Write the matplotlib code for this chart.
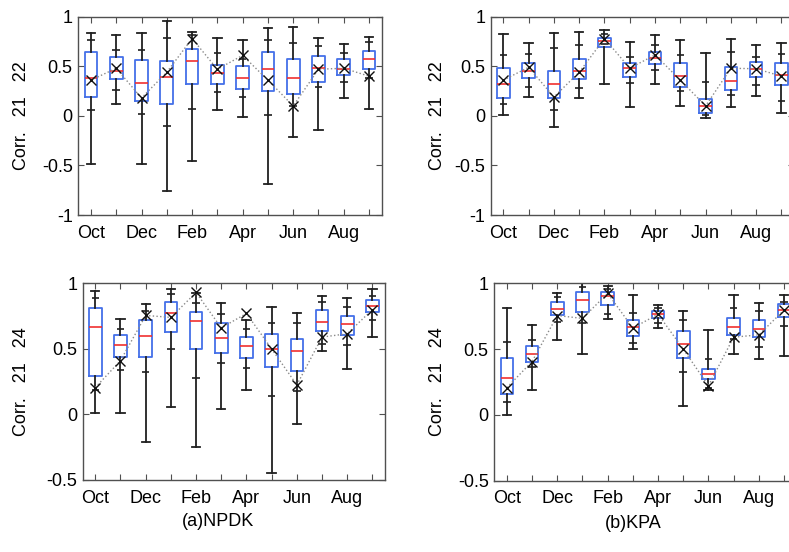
import matplotlib
matplotlib.use("Agg")
import matplotlib.pyplot as plt

plt.rcParams['font.family'] = ['Liberation Sans', 'DejaVu Sans']

months = ['Oct', 'Nov', 'Dec', 'Jan', 'Feb', 'Mar', 'Apr', 'May', 'Jun', 'Jul', 'Aug', 'Sep']
shown_labels = ['Oct', '', 'Dec', '', 'Feb', '', 'Apr', '', 'Jun', '', 'Aug', '']

# ---- (a) NPDK, Corr 21-22 ----
a22_hi = [0.84, 0.82, 0.84, 0.96, 0.85, 0.79, 0.77, 0.885, 0.90, 0.79, 0.72, 0.80]
a22_phi = [0.76, 0.66, 0.66, 0.79, 0.82, 0.63, 0.575, 0.77, 0.73, 0.70, 0.63, 0.745]
a22_q3 = [0.646, 0.595, 0.565, 0.55, 0.675, 0.515, 0.50, 0.64, 0.576, 0.60, 0.575, 0.655]
a22_med = [0.38, 0.45, 0.33, 0.39, 0.55, 0.43, 0.38, 0.47, 0.377, 0.48, 0.475, 0.575]
a22_q1 = [0.19, 0.37, 0.15, 0.12, 0.32, 0.32, 0.275, 0.25, 0.225, 0.345, 0.41, 0.47]
a22_plo = [0.06, 0.26, 0.02, -0.10, 0.07, 0.24, 0.19, 0.01, 0.10, 0.29, 0.34, 0.38]
a22_lo = [-0.49, 0.12, -0.49, -0.76, -0.46, 0.06, -0.01, -0.69, -0.21, -0.14, 0.18, 0.065]
a22_x = [0.36, 0.48, 0.18, 0.44, 0.78, 0.47, 0.61, 0.36, 0.10, 0.47, 0.48, 0.40]

# ---- (b) KPA, Corr 21-22 ----
b22_hi = [0.825, 0.735, 0.84, 0.845, 0.865, 0.745, 0.815, 0.76, 0.63, 0.78, 0.715, 0.73]
b22_phi = [0.61, 0.62, 0.68, 0.71, 0.83, 0.59, 0.715, 0.61, 0.34, 0.645, 0.59, 0.62]
b22_q3 = [0.48, 0.535, 0.455, 0.57, 0.79, 0.535, 0.645, 0.53, 0.17, 0.495, 0.54, 0.535]
b22_med = [0.325, 0.45, 0.325, 0.455, 0.75, 0.48, 0.58, 0.40, 0.10, 0.355, 0.47, 0.415]
b22_q1 = [0.18, 0.385, 0.18, 0.37, 0.69, 0.395, 0.525, 0.29, 0.03, 0.265, 0.395, 0.31]
b22_plo = [0.12, 0.295, 0.06, 0.28, 0.72, 0.33, 0.46, 0.25, 0.005, 0.215, 0.315, 0.15]
b22_lo = [0.01, 0.19, -0.11, 0.18, 0.325, 0.09, 0.325, 0.10, -0.025, 0.09, 0.20, 0.025]
b22_x = [0.36, 0.49, 0.19, 0.44, 0.78, 0.48, 0.615, 0.36, 0.10, 0.48, 0.475, 0.40]

# ---- (a) NPDK, Corr 21-24 ----
a24_hi = [0.94, 0.73, 0.845, 0.96, 0.925, 0.85, 0.72, 0.82, 0.77, 0.905, 0.89, 0.955]
a24_phi = [0.89, 0.655, 0.79, 0.92, 0.85, 0.765, 0.65, 0.695, 0.70, 0.855, 0.82, 0.90]
a24_q3 = [0.815, 0.605, 0.72, 0.86, 0.78, 0.695, 0.59, 0.61, 0.575, 0.795, 0.75, 0.87]
a24_med = [0.665, 0.53, 0.595, 0.77, 0.715, 0.58, 0.525, 0.50, 0.485, 0.705, 0.69, 0.825]
a24_q1 = [0.295, 0.44, 0.435, 0.63, 0.50, 0.47, 0.43, 0.36, 0.335, 0.635, 0.605, 0.78]
a24_plo = [0.185, 0.34, 0.32, 0.50, 0.28, 0.39, 0.355, 0.14, 0.175, 0.535, 0.53, 0.72]
a24_lo = [0.01, 0.01, -0.21, 0.06, -0.25, 0.045, 0.19, -0.45, -0.07, 0.485, 0.35, 0.59]
a24_x = [0.205, 0.41, 0.755, 0.74, 0.93, 0.66, 0.77, 0.50, 0.225, 0.59, 0.615, 0.80]

# ---- (b) KPA, Corr 21-24 ----
b24_hi = [0.81, 0.68, 0.925, 1.0, 0.98, 0.913, 0.835, 0.786, 0.644, 0.913, 0.847, 0.913]
b24_phi = [0.557, 0.57, 0.895, 0.975, 0.96, 0.776, 0.815, 0.72, 0.422, 0.81, 0.79, 0.857]
b24_q3 = [0.435, 0.525, 0.86, 0.936, 0.934, 0.718, 0.79, 0.636, 0.351, 0.735, 0.72, 0.845]
b24_med = [0.277, 0.463, 0.807, 0.873, 0.903, 0.664, 0.77, 0.537, 0.313, 0.667, 0.654, 0.796]
b24_q1 = [0.155, 0.40, 0.76, 0.78, 0.837, 0.598, 0.735, 0.435, 0.275, 0.608, 0.593, 0.745]
b24_plo = [0.097, 0.365, 0.705, 0.70, 0.77, 0.547, 0.70, 0.326, 0.206, 0.573, 0.517, 0.677]
b24_lo = [0.0, 0.19, 0.567, 0.466, 0.725, 0.504, 0.66, 0.07, 0.19, 0.463, 0.425, 0.448]
b24_x = [0.206, 0.405, 0.755, 0.733, 0.924, 0.66, 0.765, 0.50, 0.22, 0.59, 0.608, 0.796]

FIG_W, FIG_H = 789, 552
fig = plt.figure(figsize=(FIG_W / 100, FIG_H / 100), dpi=100)

BOX_BLUE = '#4470e8'
MED_RED = '#f03030'
WHISK = '#202020'
FRAME = '#505050'
FS = 13


def px_axes(left, top, right, bottom):
    return fig.add_axes([left / FIG_W, 1 - bottom / FIG_H,
                         (right - left) / FIG_W, (bottom - top) / FIG_H])


def draw_panel(ax, hi, phi, q3, med, q1, plo, lo, xm, ylim, yticks, yticklabels):
    pos = list(range(1, len(months) + 1))
    stats = []
    for i in range(len(months)):
        stats.append(dict(med=med[i], q1=q1[i], q3=q3[i], whislo=lo[i], whishi=hi[i],
                          fliers=[], label=months[i]))
    ax.bxp(stats, positions=pos, widths=0.5, showfliers=False, patch_artist=False,
           boxprops=dict(color=BOX_BLUE, linewidth=1.3),
           medianprops=dict(color=MED_RED, linewidth=1.2),
           whiskerprops=dict(color=WHISK, linewidth=1.3),
           capprops=dict(color=WHISK, linewidth=1.3), capwidths=0.33)
    # inner percentile ticks on whiskers
    ax.hlines(phi, [p - 0.15 for p in pos], [p + 0.15 for p in pos], colors=WHISK, linewidth=1.2)
    ax.hlines(plo, [p - 0.15 for p in pos], [p + 0.15 for p in pos], colors=WHISK, linewidth=1.2)
    # mean markers connected with dotted line
    ax.plot(pos, xm, linestyle=':', color='#8a8a8a', linewidth=1.0, zorder=4)
    ax.plot(pos, xm, linestyle='none', marker='x', color='#111111', markersize=6.5,
            markeredgewidth=1.0, zorder=5)
    ax.set_xlim(0.5, 12.5)
    ax.set_ylim(*ylim)
    ax.set_xticks(pos)
    ax.set_xticklabels(shown_labels, fontsize=FS)
    ax.set_yticks(yticks)
    ax.set_yticklabels(yticklabels, fontsize=FS)
    ax.tick_params(direction='in', length=4, width=0.8, color=FRAME,
                   top=True, right=True, pad=4)
    ax.tick_params(axis='x', pad=7)
    for s in ax.spines.values():
        s.set_color(FRAME)
        s.set_linewidth(1.0)


ax1 = px_axes(78.3, 16.7, 381.7, 215)
ax2 = px_axes(490.7, 16.7, 794.1, 215)
ax3 = px_axes(82.7, 283.3, 385, 480)
ax4 = px_axes(494.3, 283.3, 796.6, 480.5)

top_ticks = [-1, -0.5, 0, 0.5, 1]
top_tl = ['-1', '-0.5', '0', '0.5', '1']
bot_ticks = [-0.5, 0, 0.5, 1]
bot_tl = ['-0.5', '0', '0.5', '1']

draw_panel(ax1, a22_hi, a22_phi, a22_q3, a22_med, a22_q1, a22_plo, a22_lo, a22_x,
           (-1, 1), top_ticks, top_tl)
draw_panel(ax2, b22_hi, b22_phi, b22_q3, b22_med, b22_q1, b22_plo, b22_lo, b22_x,
           (-1, 1), top_ticks, top_tl)
draw_panel(ax3, a24_hi, a24_phi, a24_q3, a24_med, a24_q1, a24_plo, a24_lo, a24_x,
           (-0.5, 1), bot_ticks, bot_tl)
draw_panel(ax4, b24_hi, b24_phi, b24_q3, b24_med, b24_q1, b24_plo, b24_lo, b24_x,
           (-0.5, 1), bot_ticks, bot_tl)

ylab_top = 'Corr.   21   22'
ylab_bot = 'Corr.   21   24'
fig.text(22 / FIG_W, 1 - 116 / FIG_H, ylab_top, rotation=90, ha='center', va='center', fontsize=FS)
fig.text(437 / FIG_W, 1 - 116 / FIG_H, ylab_top, rotation=90, ha='center', va='center', fontsize=FS)
fig.text(22 / FIG_W, 1 - 382 / FIG_H, ylab_bot, rotation=90, ha='center', va='center', fontsize=FS)
fig.text(437 / FIG_W, 1 - 382 / FIG_H, ylab_bot, rotation=90, ha='center', va='center', fontsize=FS)

fig.text(218 / FIG_W, 1 - 522 / FIG_H, '(a)NPDK', ha='center', va='center', fontsize=FS)
fig.text(633 / FIG_W, 1 - 523 / FIG_H, '(b)KPA', ha='center', va='center', fontsize=FS)

fig.savefig('out.png', dpi=100)
